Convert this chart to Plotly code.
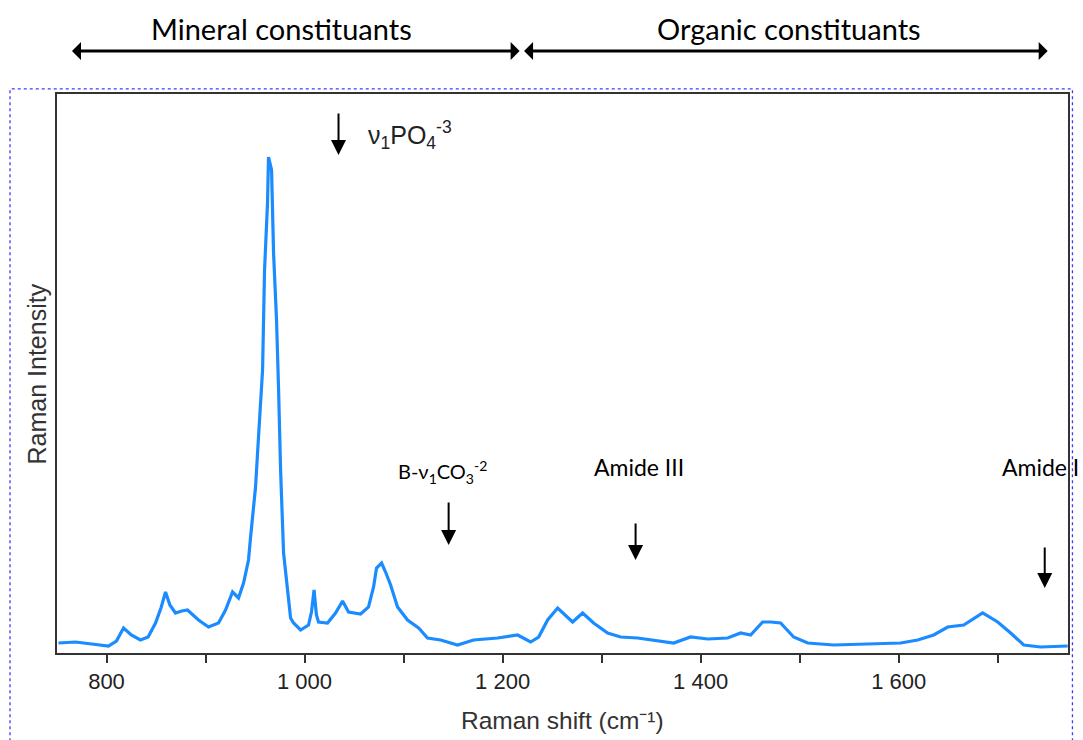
import plotly.graph_objects as go

# Raman spectrum, arbitrary intensity units
raman_shift = [751.5, 768.7, 785, 802, 810, 817.2, 825, 834.3, 842, 849.5, 855, 859.6, 864,
               869.7, 876, 881.8, 892.9, 903, 913.1, 920.2, 927.3, 933.3, 938.4, 943.4, 945.5,
               950.5, 953.5, 957.6, 959.6, 962.6, 963.6, 966.7, 968.7, 971.7, 973.7, 975.8,
               978.8, 982.8, 985.9, 988.9, 996, 1004, 1007, 1009.6, 1012, 1014.1, 1023.2,
               1031.3, 1038.4, 1044.4, 1056.6, 1064.6, 1069.7, 1072.7, 1077.8, 1081.8, 1086.9,
               1093.9, 1104, 1115.2, 1124.2, 1137.4, 1154.5, 1170.7, 1195, 1215.2, 1228.3,
               1236.4, 1245.5, 1255.6, 1270.7, 1280.8, 1291.9, 1306.1, 1319.2, 1336.4, 1349.5,
               1372.7, 1389.9, 1407.1, 1427.3, 1440.4, 1450.5, 1462.6, 1470.7, 1480.8, 1493.9,
               1508.1, 1534.3, 1568.7, 1602, 1619.2, 1635.4, 1649.5, 1665.7, 1684.8, 1700,
               1713.1, 1726.3, 1743.4, 1770.7]
intensity = [10, 11, 9, 7, 12, 25, 18, 13, 16, 30, 45, 61, 48,
             40, 42, 43, 33, 26, 30, 43, 61, 55, 70, 93, 116,
             166, 216, 283, 383, 450, 496, 483, 400, 333, 266, 183,
             100, 60, 35, 30, 23, 28, 41, 63, 38, 31, 30,
             40, 52, 41, 39, 46, 66, 85, 90, 81, 68,
             46, 33, 25, 15, 13, 8, 13, 15, 18, 11,
             16, 33, 45, 31, 40, 30, 20, 16, 15, 13,
             10, 16, 14, 15, 20, 18, 31, 31, 30, 16,
             10, 8, 9, 10, 13, 18, 26, 28, 40, 31,
             20, 8, 6, 7]

tick_values = [800, 900, 1000, 1100, 1200, 1300, 1400, 1500, 1600, 1700]
tick_labels = ["800", "", "1 000", "", "1 200", "", "1 400", "", "1 600", ""]

region_labels = ["Mineral constituants", "Organic constituants"]
region_start = [763.6, 1220.2]
region_end = [1217.2, 1750.5]
region_label_x = [976.8, 1489.4]

peak_labels = ["ν<sub>1</sub>PO<sub>4</sub><sup>-3</sup>",
               "B-ν<sub>1</sub>CO<sub>3</sub><sup>-2</sup>",
               "Amide III", "Amide I"]
peak_x = [1034.3, 1145.5, 1334.3, 1747.5]
peak_y = [498, 108, 93, 65]

fig = go.Figure()
fig.add_trace(go.Scatter(x=raman_shift, y=intensity, mode="lines",
                         line=dict(color="#1a8cff", width=3.2), showlegend=False,
                         hoverinfo="skip"))

ann = []
# region headers with double arrows
for lab, lx, x0, x1 in zip(region_labels, region_label_x, region_start, region_end):
    ann.append(dict(x=lx, y=1.118, xref="x", yref="paper", text=lab,
                    showarrow=False, font=dict(family="Lato", size=29, color="#000"),
                    xanchor="center", yanchor="middle"))
    ann.append(dict(x=x1, y=1.077, xref="x", yref="paper", ax=x0, ay=0,
                    axref="x", ayref="pixel", text="", showarrow=True,
                    arrowhead=1, startarrowhead=1, arrowside="end+start",
                    arrowwidth=3, arrowsize=1.0, startarrowsize=1.0, arrowcolor="#000"))

# peak arrows
tails = [-43, -44, -38, -42]
for px, py, t in zip(peak_x, peak_y, tails):
    ann.append(dict(x=px, y=py, xref="x", yref="y", ax=0, ay=t, text="",
                    showarrow=True, arrowhead=2, arrowwidth=2, arrowsize=1.5,
                    arrowcolor="#000"))

# peak labels
ann.append(dict(x=1061.6, y=518, xref="x", yref="y", text=peak_labels[0], showarrow=False,
                xanchor="left", yanchor="middle",
                font=dict(family="Liberation Sans", size=25, color="#222")))
ann.append(dict(x=1139.4, y=181, xref="x", yref="y", text=peak_labels[1], showarrow=False,
                xanchor="center", yanchor="middle",
                font=dict(family="Lato", size=20, color="#000")))
ann.append(dict(x=1337.4, y=186, xref="x", yref="y", text=peak_labels[2], showarrow=False,
                xanchor="center", yanchor="middle",
                font=dict(family="Lato", size=23, color="#000")))
ann.append(dict(x=1702, y=186, xref="x", yref="y", text=peak_labels[3], showarrow=False,
                xanchor="left", yanchor="middle",
                font=dict(family="Lato", size=23, color="#000")))

# axis titles
ann.append(dict(x=0.5, y=-0.12, xref="paper", yref="paper", text="Raman shift (cm⁻¹)",
                showarrow=False, xanchor="center", yanchor="middle",
                font=dict(family="Liberation Sans", size=24.5, color="#333")))
ann.append(dict(x=-0.0198, y=0.5, xref="paper", yref="paper", text="Raman Intensity",
                showarrow=False, xanchor="center", yanchor="middle", textangle=-90,
                font=dict(family="Liberation Sans", size=25, color="#333")))

fig.update_layout(
    width=1083, height=740,
    margin=dict(l=57, r=15, t=94, b=87),
    paper_bgcolor="white", plot_bgcolor="white",
    annotations=ann,
    shapes=[dict(type="rect", xref="paper", yref="paper", x0=-0.0465, x1=1.0044,
                 y0=-0.2, y1=1.009, line=dict(color="#3c3cff", width=1.3, dash="dot"),
                 fillcolor="rgba(0,0,0,0)", layer="above")],
)
fig.update_xaxes(range=[750, 1771], tickmode="array", tickvals=tick_values,
                 ticktext=tick_labels, ticks="outside", ticklen=8, tickwidth=1.5,
                 tickcolor="#333", showline=True, linecolor="#333", linewidth=2,
                 mirror=True, showgrid=False, zeroline=False,
                 tickfont=dict(family="Liberation Sans", size=22, color="#222"))
fig.update_yaxes(range=[0, 559], showticklabels=False, ticks="", showline=True,
                 linecolor="#333", linewidth=2, mirror=True, showgrid=False,
                 zeroline=False)

fig.write_html("out.html", config={"displayModeBar": False},
               post_script="document.body.style.margin='0';"
                           "document.body.style.overflow='hidden';")
